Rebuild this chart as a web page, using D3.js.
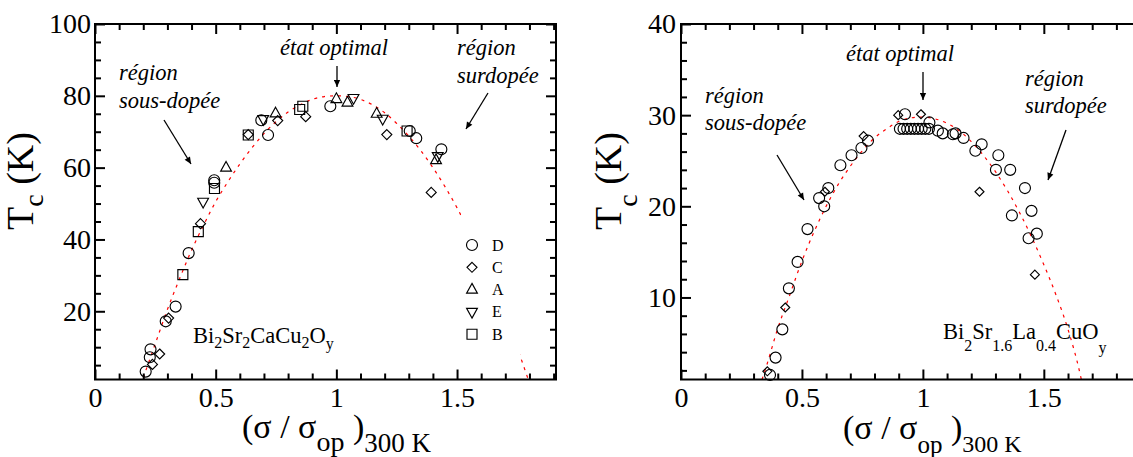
<!DOCTYPE html>
<html><head><meta charset="utf-8">
<script src="https://cdn.jsdelivr.net/npm/d3@7"></script>
<style>
body{margin:0;background:#fff}
svg{display:block}
svg text{font-family:"Liberation Serif","Tinos","Times New Roman",Times,"DejaVu Serif","Noto Serif",serif !important;fill:#000}
</style>
</head><body>
<svg id="c" width="1133" height="457"></svg>
<script>
// ---------- data ----------
const xTickLabels = [0, 0.5, 1, 1.5];
const leftYTickLabels = [20, 40, 60, 80, 100];
const rightYTickLabels = [10, 20, 30, 40];
const legendLabels = ["D", "C", "A", "E", "B"];

// left panel : Bi2Sr2CaCu2Oy, samples D, C, A, E, B
const leftD = [[0.210,3.2],[0.227,7.2],[0.230,9.4],[0.293,17.2],[0.334,21.3],[0.388,36.2],[0.494,56.5],[0.494,55.8],[0.689,73.2],[0.717,69.1],[0.975,77.1],[1.304,70.2],[1.331,68.2],[1.435,65.1]];
const leftC = [[0.238,5.2],[0.268,8.1],[0.305,18.1],[0.437,44.4],[0.635,69.2],[0.757,73.1],[0.873,74.2],[1.209,69.2],[1.393,53.1]];
const leftA = [[0.543,60.0],[0.748,75.1],[1.000,79.1],[1.046,78.1],[1.167,75.0],[1.413,62.1]];
const leftE = [[0.448,50.5],[0.697,73.5],[1.071,79.4],[1.192,73.6],[1.420,63.2]];
const leftB = [[0.364,30.2],[0.428,42.2],[0.495,54.2],[0.635,69.1],[0.848,76.2],[0.861,77.1],[1.293,70.2]];
const leftFitX = [0.20,0.25,0.30,0.35,0.40,0.45,0.50,0.55,0.60,0.65,0.70,0.75,0.80,0.85,0.90,0.95,1.00,1.05,1.10,1.15,1.20,1.25,1.30,1.35,1.40,1.45,1.50,1.55,1.60,1.65,1.70,1.75,1.795];
const leftFitY = [1.5,11,20.5,29,37,44,50.5,56,61,65.5,69.5,72.8,75.5,77.5,79,79.8,80,79.8,79,77.5,75.3,72.3,68.8,64.7,60,54.7,48.8,42.2,35,27.2,18.7,9.7,1.0];

// right panel : Bi2Sr1.6La0.4CuOy
const rightCircles = [[0.368,1.5],[0.391,3.4],[0.419,6.5],[0.446,11.0],[0.482,13.9],[0.523,17.5],[0.571,20.9],[0.592,20.0],[0.609,22.0],[0.659,24.5],[0.705,25.6],[0.746,26.4],[0.773,27.2],[0.926,30.1],
  [0.905,28.5],[0.920,28.5],[0.935,28.5],[0.950,28.5],[0.965,28.5],[0.980,28.5],[0.995,28.5],[1.010,28.5],[1.025,28.5],[1.027,29.2],
  [1.062,28.3],[1.082,28.0],[1.124,27.9],[1.135,28.0],[1.168,27.5],[1.217,26.1],[1.243,26.8],[1.302,24.0],[1.312,25.6],[1.361,24.0],[1.368,19.0],[1.422,22.0],[1.437,16.5],[1.449,19.5],[1.471,17.0]];
const rightDiamonds = [[0.357,1.9],[0.431,8.9],[0.595,21.6],[0.755,27.7],[0.898,30.0],[0.992,30.1],[1.234,21.6],[1.463,12.5]];
const rightFitX = [0.335,0.35,0.40,0.45,0.50,0.55,0.60,0.65,0.70,0.75,0.80,0.85,0.90,0.95,1.00,1.05,1.10,1.15,1.20,1.25,1.30,1.35,1.40,1.45,1.50,1.55,1.60,1.65,1.655];
const rightFitY = [1.0,2.2,6.6,10.3,14.0,17.2,20.0,22.4,24.4,26.1,27.5,28.5,29.3,29.7,29.8,29.6,29.1,28.3,27.1,25.6,23.8,21.7,19.3,16.6,13.6,10.3,6.5,1.6,1.0];

// ---------- drawing ----------
const FONT = "'Liberation Serif','Tinos','Times New Roman',Times,'DejaVu Serif','Noto Serif',serif";
const svg = d3.select("#c");
svg.append("rect").attr("width",1133).attr("height",457).attr("fill","#fff");
const defs = svg.append("defs");
defs.append("marker").attr("id","ah").attr("viewBox","0 0 10 10")
  .attr("refX",10).attr("refY",5).attr("markerWidth",9).attr("markerHeight",7)
  .attr("markerUnits","userSpaceOnUse").attr("orient","auto")
  .append("path").attr("d","M0,0.5 L10,5 L0,9.5 Z").attr("fill","#000");

const shapes = {
  circle: r => `M${r},0A${r},${r} 0 1,1 ${-r},0A${r},${r} 0 1,1 ${r},0Z`,
  diamond: r => `M0,${-r}L${r},0L0,${r}L${-r},0Z`,
  up: r => `M0,${-r*1.15}L${r},${r*0.65}L${-r},${r*0.65}Z`,
  down: r => `M0,${r*1.15}L${r},${-r*0.65}L${-r},${-r*0.65}Z`,
  square: r => `M${-r},${-r}H${r}V${r}H${-r}Z`
};

const minorX = d3.range(1,20).map(i=>i/10).filter(v=>Math.abs(v*2-Math.round(v*2))>1e-9);

function axes(g, x, y, yLabels, yMinor, labelPad){
  const X0 = x.range()[0], X1 = x.range()[1], Y0 = y.range()[0], Y1 = y.range()[1];
  const style = s => {
    s.attr("font-family", FONT);
    s.select(".domain").remove();
    s.selectAll("line").attr("stroke","#000").attr("stroke-width",2);
    s.selectAll("text").attr("font-size",28).attr("fill","#000").attr("font-family",FONT);
  };
  g.append("g").attr("transform",`translate(0,${Y0})`)
    .call(d3.axisBottom(x).tickValues(xTickLabels).tickSize(-10).tickPadding(8).tickFormat(d=>String(d))).call(style);
  g.append("g").attr("transform",`translate(0,${Y0})`)
    .call(d3.axisBottom(x).tickValues(minorX).tickSize(-6).tickFormat("")).call(style);
  g.append("g").attr("transform",`translate(0,${Y1})`)
    .call(d3.axisTop(x).tickValues(xTickLabels).tickSize(-10).tickFormat("")).call(style);
  g.append("g").attr("transform",`translate(0,${Y1})`)
    .call(d3.axisTop(x).tickValues(minorX).tickSize(-6).tickFormat("")).call(style);
  g.append("g").attr("transform",`translate(${X0},0)`)
    .call(d3.axisLeft(y).tickValues(yLabels).tickSize(-10).tickPadding(labelPad).tickFormat(d=>String(d))).call(style);
  g.append("g").attr("transform",`translate(${X0},0)`)
    .call(d3.axisLeft(y).tickValues(yMinor).tickSize(-6).tickFormat("")).call(style);
  g.append("g").attr("transform",`translate(${X1},0)`)
    .call(d3.axisRight(y).tickValues(yLabels).tickSize(-10).tickFormat("")).call(style);
  g.append("g").attr("transform",`translate(${X1},0)`)
    .call(d3.axisRight(y).tickValues(yMinor).tickSize(-6).tickFormat("")).call(style);
  g.append("rect").attr("x",X0).attr("y",Y1).attr("width",X1-X0).attr("height",Y0-Y1)
    .attr("fill","none").attr("stroke","#000").attr("stroke-width",2);
}

function fitLine(g, x, y, xs, ys){
  g.append("path").datum(xs.map((v,i)=>[v,ys[i]]))
    .attr("d", d3.line().x(d=>x(d[0])).y(d=>y(d[1])).curve(d3.curveMonotoneX))
    .attr("fill","none").attr("stroke","#ff0000").attr("stroke-width",1.2).attr("stroke-dasharray","3,5");
}

function points(g, x, y, data, shape, r){
  g.append("g").selectAll("path").data(data).join("path")
    .attr("transform", d=>`translate(${x(d[0])},${y(d[1])})`)
    .attr("d", shapes[shape](r)).attr("fill","none").attr("stroke","#000").attr("stroke-width",1.15);
}

function txt(g, x0, y0, size){
  return g.append("text").attr("x",x0).attr("y",y0).attr("font-size",size).attr("font-family",FONT);
}
function italic(g, x0, y0, str){
  txt(g,x0,y0,22.5).attr("font-style","italic").text(str);
}
function arrow(g, x1,y1,x2,y2){
  g.append("line").attr("x1",x1).attr("y1",y1).attr("x2",x2).attr("y2",y2)
    .attr("stroke","#000").attr("stroke-width",1.3).attr("marker-end","url(#ah)");
}

// ----- left panel -----
{
  const g = svg.append("g");
  const x = d3.scaleLinear().domain([0,1.91]).range([95,556]);
  const y = d3.scaleLinear().domain([1,100]).range([379.5,24]);
  fitLine(g, x, y, leftFitX, leftFitY);
  // legend box hides the curve
  g.append("rect").attr("x",461).attr("y",212).attr("width",59).attr("height",146).attr("fill","#fff");
  points(g,x,y,leftD,"circle",5.5);
  points(g,x,y,leftC,"diamond",5);
  points(g,x,y,leftA,"up",5.4);
  points(g,x,y,leftE,"down",5.4);
  points(g,x,y,leftB,"square",5);
  const legShapes = ["circle","diamond","up","down","square"];
  const legR = [5.5,5,5.4,5.4,5];
  legendLabels.forEach((lab,i)=>{
    const cy = 245 + i*22.3;
    g.append("path").attr("transform",`translate(472,${cy})`).attr("d",shapes[legShapes[i]](legR[i]))
      .attr("fill","none").attr("stroke","#000").attr("stroke-width",1.15);
    txt(g,492,cy+5.5,16).text(lab);
  });
  axes(g, x, y, leftYTickLabels, d3.range(5,100,5).filter(v=>v%20!==0), 4);

  italic(g,119,80,"région");
  italic(g,119,108,"sous-dopée");
  arrow(g,164,120,191,164);
  italic(g,280,55,"état optimal");
  arrow(g,337,66,337,87);
  italic(g,457,55,"région");
  italic(g,457,83,"surdopée");
  arrow(g,488,93,466,129);

  const f = txt(g,193,343,22.5);
  f.append("tspan").text("Bi");
  f.append("tspan").attr("font-size",16).attr("dy",5).text("2");
  f.append("tspan").attr("dy",-5).text("Sr");
  f.append("tspan").attr("font-size",16).attr("dy",5).text("2");
  f.append("tspan").attr("dy",-5).text("CaCu");
  f.append("tspan").attr("font-size",16).attr("dy",5).text("2");
  f.append("tspan").attr("dy",-5).text("O");
  f.append("tspan").attr("font-size",16).attr("dy",6).text("y");

  const xl = txt(g,242,438,34);
  xl.append("tspan").text("(σ / σ");
  xl.append("tspan").attr("font-size",28).attr("dy",13).text("op");
  xl.append("tspan").attr("dy",-13).text(" )");
  xl.append("tspan").attr("font-size",27).attr("dy",14).text("300 K");

  const yl = g.append("text").attr("transform","translate(33,230) rotate(-90)").attr("font-size",38).attr("font-family",FONT);
  yl.append("tspan").text("T");
  yl.append("tspan").attr("font-size",28).attr("dy",10).text("c");
  yl.append("tspan").attr("dy",-10).text(" (K)");
}

// ----- right panel -----
{
  const g = svg.append("g");
  const x = d3.scaleLinear().domain([0,1.91]).range([681,1143]);
  const y = d3.scaleLinear().domain([1,40]).range([379.5,24]);
  fitLine(g, x, y, rightFitX, rightFitY);
  points(g,x,y,rightCircles,"circle",5.5);
  points(g,x,y,rightDiamonds,"diamond",4.5);
  axes(g, x, y, rightYTickLabels, d3.range(2,40,2).filter(v=>v%10!==0), 5);

  italic(g,705,103,"région");
  italic(g,705,130,"sous-dopée");
  arrow(g,777,155,804,200);
  italic(g,846,61,"état optimal");
  arrow(g,923,72,923,100);
  italic(g,1025,86,"région");
  italic(g,1025,113,"surdopée");
  arrow(g,1066,130,1048,180);

  const f = txt(g,943,339,22.5);
  f.append("tspan").text("Bi");
  f.append("tspan").attr("font-size",16).attr("dy",12).text("2");
  f.append("tspan").attr("dy",-12).text("Sr");
  f.append("tspan").attr("font-size",16).attr("dy",12).text("1.6");
  f.append("tspan").attr("dy",-12).text("La");
  f.append("tspan").attr("font-size",16).attr("dy",12).text("0.4");
  f.append("tspan").attr("dy",-12).text("CuO");
  f.append("tspan").attr("font-size",16).attr("dy",14).text("y");

  const xl = txt(g,843,439,34);
  xl.append("tspan").text("(σ / σ");
  xl.append("tspan").attr("font-size",25).attr("dy",14).text("op");
  xl.append("tspan").attr("dy",-14).text(" )");
  xl.append("tspan").attr("font-size",24).attr("dy",13).text("300 K");

  const yl = g.append("text").attr("transform","translate(621,230) rotate(-90)").attr("font-size",38).attr("font-family",FONT);
  yl.append("tspan").text("T");
  yl.append("tspan").attr("font-size",28).attr("dy",16).text("c");
  yl.append("tspan").attr("dy",-16).text(" (K)");
}
</script>
</body></html>
